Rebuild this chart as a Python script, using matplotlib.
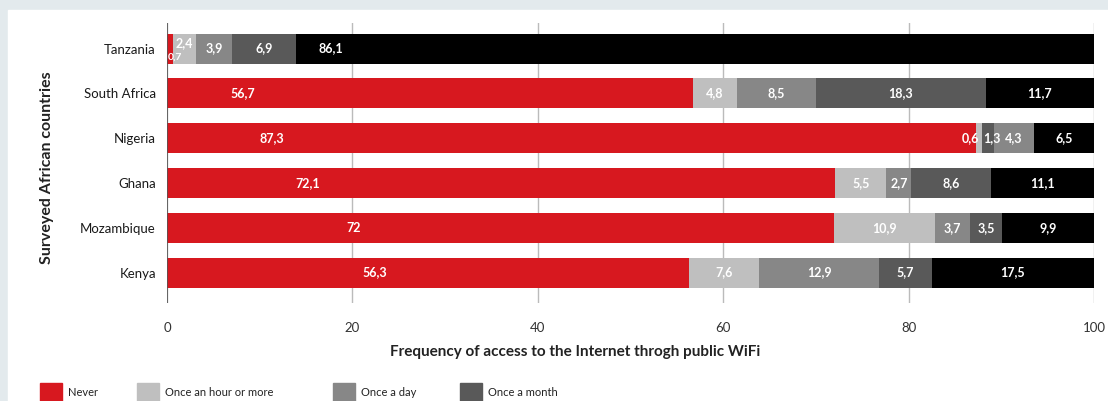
import matplotlib.pyplot as plt
from matplotlib.patches import Rectangle

plt.rcParams["font.family"] = ["Lato", "DejaVu Sans"]

countries = ["Tanzania", "South Africa", "Nigeria", "Ghana", "Mozambique", "Kenya"]
never       = [0.7, 56.7, 87.3, 72.1, 72.0, 56.3]
hourly      = [2.4, 4.8, 0.6, 5.5, 10.9, 7.6]
daily       = [3.9, 8.5, 1.3, 2.7, 3.7, 12.9]
monthly     = [6.9, 18.3, 4.3, 8.6, 3.5, 5.7]
less_often  = [86.1, 11.7, 6.5, 11.1, 9.9, 17.5]
series_names = ["Never", "Once an hour or more", "Once a day", "Once a month"]

C_RED   = "#d7181f"
C_LIGHT = "#bfbfbf"
C_MID   = "#878787"
C_DARK  = "#595959"
C_BLACK = "#000000"
colors = [C_RED, C_LIGHT, C_MID, C_DARK, C_BLACK]

# where the "Never" value sits inside the red bar (data units, as in the source)
never_label_x = [None, 8.2, 11.3, 15.2, 20.1, 22.4]
# legend swatch left edges, in figure pixels
legend_x = [40, 137, 333, 460]

W, H = 1108, 401
fig = plt.figure(figsize=(W / 100, H / 100), dpi=100, facecolor="#e3eaed")
fig.patches.append(Rectangle((8 / W, 0), 1, 1 - 10 / H, transform=fig.transFigure,
                             color="white", zorder=-10))
ax = fig.add_axes([167 / W, 1 - 303 / H, (1094 - 167) / W, 280 / H])
ax.set_facecolor("none")

series = [never, hourly, daily, monthly, less_often]
ypos = list(range(len(countries)))
left = [0.0] * len(countries)
for s_idx, vals in enumerate(series):
    for i, v in enumerate(vals):
        col = colors[s_idx]
        # Nigeria's source chart swaps the shades of the two middle grey segments
        if countries[i] == "Nigeria" and s_idx in (2, 3):
            col = C_DARK if s_idx == 2 else C_MID
        ax.barh(ypos[i], v, left=left[i], height=0.67, color=col, zorder=3)

        txt = f"{v:g}".replace(".", ",")
        xc = left[i] + v / 2
        dy, fs = 0.0, 9
        if s_idx == 0 and never_label_x[i] is not None:
            xc = never_label_x[i]
        if countries[i] == "Tanzania":
            if s_idx == 0:
                xc, dy, fs = 0.9, 0.2, 7.5
            elif s_idx == 1:
                dy = -0.12
            elif s_idx == 4:
                xc = left[i] + 3.8
        if countries[i] == "Nigeria" and s_idx == 1:
            xc = left[i] - 0.6
        if countries[i] == "Nigeria" and s_idx == 2:
            xc = left[i] + v / 2 + 0.4
        ax.text(xc, ypos[i] + dy, txt, ha="center", va="center", color="white",
                fontsize=fs, fontweight="bold", zorder=5)
        left[i] += v

ax.set_xlim(0, 100)
ax.set_ylim(5.68, -0.57)
ax.set_xticks([0, 20, 40, 60, 80, 100])
ax.set_yticks(ypos)
ax.set_yticklabels(countries, fontsize=9.5, color="#1a1a1a")
ax.tick_params(axis="x", length=0, pad=14, labelsize=9.5, labelcolor="#333333")
ax.tick_params(axis="y", length=0, pad=8)
ax.grid(axis="x", color="#bbbbbb", linewidth=1, zorder=1)
ax.axvline(0, color="#555555", linewidth=1.2, zorder=4)
for sp in ax.spines.values():
    sp.set_visible(False)

fig.text(575 / W, 1 - 352 / H, "Frequency of access to the Internet throgh public WiFi",
         ha="center", va="center", fontsize=11, fontweight="bold", color="#222222")
fig.text(47 / W, 1 - 168 / H, "Surveyed African countries", rotation=90,
         ha="center", va="center", fontsize=11.5, fontweight="bold", color="#222222")

# legend, laid out by hand like the source
for name, c, x0 in zip(series_names, colors[:4], legend_x):
    fig.patches.append(Rectangle((x0 / W, 1 - 405 / H), 22 / W, 22 / H,
                                 transform=fig.transFigure, color=c))
    fig.text((x0 + 28) / W, 1 - 392 / H, name, ha="left", va="center",
             fontsize=8, color="#222222")

fig.savefig("out.png", dpi=100, facecolor=fig.get_facecolor())
